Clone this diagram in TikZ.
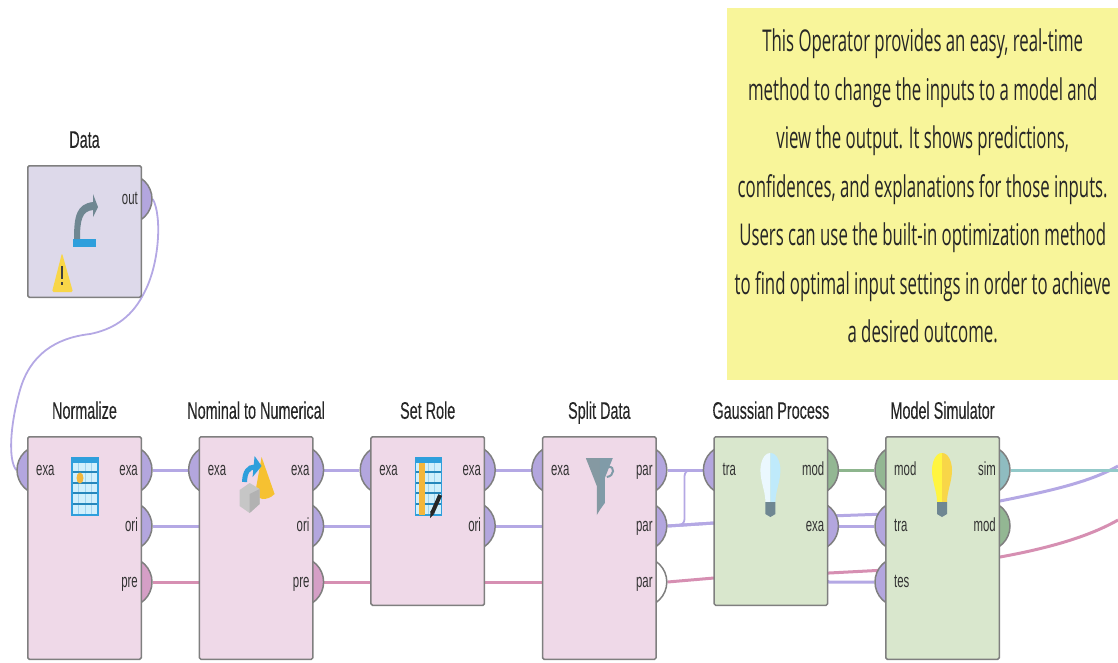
\documentclass[tikz,border=0pt]{standalone}
\usepackage{fontspec}
\setmainfont[FakeStretch=0.6]{Liberation Sans}
\newfontfamily\titlefont[FakeStretch=0.6,FakeBold=0.25]{Liberation Sans}
\newfontfamily\notefont[FakeStretch=0.56]{Open Sans}
\usetikzlibrary{arrows.meta,positioning,shapes.geometric,calc}
\definecolor{portblue}{HTML}{B3A6DE}
\definecolor{portpink}{HTML}{D59FC6}
\definecolor{portgreen}{HTML}{93B793}
\definecolor{portteal}{HTML}{8FBCC0}
\definecolor{wireblue}{HTML}{B4A8E4}
\definecolor{wirepink}{HTML}{D68FB2}
\definecolor{wiregreen}{HTML}{8DB58D}
\definecolor{wireteal}{HTML}{93C9C9}
\definecolor{opgray}{HTML}{7F7F7F}
\definecolor{oppink}{HTML}{EFD9E8}
\definecolor{opgreen}{HTML}{D9E7CD}
\definecolor{oplilac}{HTML}{DDD9EA}
\definecolor{noteyellow}{HTML}{F8F59A}
\definecolor{iconblue}{HTML}{2E9FDC}
\definecolor{iconslate}{HTML}{6F8792}
\definecolor{iconamber}{HTML}{F4B63A}
\definecolor{iconwarn}{HTML}{F8D648}
\pgfdeclarelayer{wires}
\pgfdeclarelayer{ports}
\pgfsetlayers{wires,ports,main}
\tikzset{
  pics/tableicon/.style={code={
    \fill[cyan!18] (45,22) rectangle (71,79);
    \foreach \xx in {51.5,58,64.5} \draw[iconblue!45,line width=1pt] (\xx,22) -- (\xx,79);
    \foreach \yy in {36,47,57,68} \draw[iconblue!85!black,line width=1.3pt] (45,\yy) -- (71,\yy);
    \fill[iconblue] (45,22) rectangle (71,27);
    \draw[iconblue,line width=1.2pt] (45,22) rectangle (71,79);}},
  pics/bulbicon/.style 2 args={code={
    \fill[#1] (57,17) .. controls (50,17) and (47,27) .. (47,34) .. controls (47,46) and (52,55) .. (52,66) -- (57,66) -- cycle;
    \fill[#2] (57,17) .. controls (64,17) and (67,27) .. (67,34) .. controls (67,46) and (62,55) .. (62,66) -- (57,66) -- cycle;
    \fill[iconslate] (52,66) -- (62,66) -- (62,78) -- (57,81) -- (52,78) -- cycle;}}
}
\newcommand{\outport}[5]{%
  \begin{pgfonlayer}{ports}\node[port, fill=#4] (#2) at ($(#1.north east)+(-15,#3)$) {};\end{pgfonlayer}
  \node[portlabel, anchor=east] (#2t) at ($(#1.north east)+(-3,#3)$) {#5};}
\newcommand{\inport}[5]{%
  \begin{pgfonlayer}{ports}\node[port, fill=#4] (#2) at ($(#1.north west)+(15,#3)$) {};\end{pgfonlayer}
  \node[portlabel, anchor=west] (#2t) at ($(#1.north west)+(8,#3)$) {#5};}
\begin{document}
\begin{tikzpicture}[x=1pt, y=-1pt,
  opbox/.style={draw=opgray, line width=1.5pt, rounded corners=1.5pt, anchor=north west, minimum width=113.5pt, inner sep=0pt},
  optitle/.style={font=\titlefont\fontsize{24}{28}\selectfont, text=black!85, above=12pt, inner sep=0pt, text depth=5pt},
  port/.style={circle, draw=opgray, line width=1.5pt, minimum size=50pt, inner sep=0pt},
  portlabel/.style={font=\fontsize{19}{22}\selectfont, text=black!80, inner sep=1pt, text height=11pt, text depth=0pt},
  wire/.style={wireblue, line width=3pt},
  notebox/.style={fill=noteyellow, anchor=north west, minimum width=391pt, minimum height=372pt, align=center, inner sep=0pt, font=\notefont\fontsize{30}{48.5}\selectfont, text=black!85}]
\useasboundingbox (0,0) rectangle (1118,662);
\node[notebox] (note) at (727,8) {This Operator provides an easy, real-time\\method to change the inputs to a model and\\view the output. It shows predictions,\\confidences, and explanations for those inputs.\\Users can use the built-in optimization method\\to find optimal input settings in order to achieve\\a desired outcome.\rule[-17pt]{0pt}{17pt}};
\node[opbox, fill=oplilac, minimum height=131.5pt] (data) at (27,165) {};
\node[opbox, fill=oppink, minimum height=222.5pt] (norm) at (27,436) {};
\node[opbox, fill=oppink, minimum height=222.5pt, right=56.6pt of norm.north east, anchor=north west] (nomi) {};
\node[opbox, fill=oppink, minimum height=168.5pt, right=56.6pt of nomi.north east, anchor=north west] (role) {};
\node[opbox, fill=oppink, minimum height=222.5pt, right=56.6pt of role.north east, anchor=north west] (splt) {};
\node[opbox, fill=opgreen, minimum height=168.5pt, right=56.6pt of splt.north east, anchor=north west] (gaus) {};
\node[opbox, fill=opgreen, minimum height=222.5pt, right=56.6pt of gaus.north east, anchor=north west] (simu) {};
\node[optitle] (datat) at (data.north) {Data};
\node[optitle] (normt) at (norm.north) {Normalize};
\node[optitle] (nomit) at (nomi.north) {Nominal to Numerical};
\node[optitle] (rolet) at (role.north) {Set Role};
\node[optitle] (spltt) at (splt.north) {Split Data};
\node[optitle] (gaust) at (gaus.north) {Gaussian Process};
\node[optitle] (simut) at (simu.north) {Model Simulator};
\outport{data}{dout}{34}{portblue}{out}
\inport{norm}{nin}{34}{portblue}{exa}
\outport{norm}{nexa}{34}{portblue}{exa}
\outport{norm}{nori}{90}{portblue}{ori}
\outport{norm}{npre}{146}{portpink}{pre}
\inport{nomi}{min}{34}{portblue}{exa}
\outport{nomi}{mexa}{34}{portblue}{exa}
\outport{nomi}{mori}{90}{portblue}{ori}
\outport{nomi}{mpre}{146}{portpink}{pre}
\inport{role}{rin}{34}{portblue}{exa}
\outport{role}{rexa}{34}{portblue}{exa}
\outport{role}{rori}{90}{portblue}{ori}
\inport{splt}{sin}{34}{portblue}{exa}
\outport{splt}{spa}{34}{portblue}{par}
\outport{splt}{spb}{90}{portblue}{par}
\outport{splt}{spc}{146}{white}{par}
\inport{gaus}{gtra}{34}{portblue}{tra}
\outport{gaus}{gmod}{34}{portgreen}{mod}
\outport{gaus}{gexa}{90}{portblue}{exa}
\inport{simu}{smod}{34}{portgreen}{mod}
\inport{simu}{stra}{90}{portblue}{tra}
\inport{simu}{stes}{146}{portblue}{tes}
\outport{simu}{ssim}{34}{portteal}{sim}
\outport{simu}{sout}{90}{portgreen}{mod}
\coordinate (exita) at (1118,470);
\coordinate (exitb) at (1118,466);
\coordinate (exitc) at (1118,520);
\begin{pgfonlayer}{wires}
\draw[wire, line width=1.8pt] (dout.east) .. controls (162,215) and (160,265) .. (143,295) .. controls (130,320) and (110,330) .. (90,334) .. controls (55,338) and (30,355) .. (20,390) .. controls (10,425) and (8,460) .. (nin.west);
\draw[wire] (nexa) -- (min); \draw[wire] (mexa) -- (rin); \draw[wire] (rexa) -- (sin); \draw[wire] (spa) -- (gtra);
\draw[wire] (nori) -- (mori); \draw[wire] (mori) -- (rori); \draw[wire] (rori) -- (spb);
\draw[wire, wirepink] (npre) -- (mpre); \draw[wire, wirepink] (mpre) -- (spc);
\draw[wire, line width=1.8pt, rounded corners=6pt] (spb.east) -- ++(17,-1) |- (gtra.west);
\draw[wire] (spb.east) -- (714,523) -- (829,582) -- (stes.west);
\draw[wire] (gexa) -- (stra);
\draw[wire] (spb.east) -- (714,523) -- (829,516) -- (886,514) -- (1000,501) .. controls (1050,491) and (1090,482) .. (exitb);
\draw[wire, wirepink] (spc.east) -- (714,578) -- (829,573) -- (886,570) -- (1000,557) .. controls (1050,548) and (1090,536) .. (exitc);
\draw[wire, wiregreen] (gmod) -- (smod);
\draw[wire, wireteal] (ssim.east) -- (exita);
\end{pgfonlayer}
\begin{scope}[shift={(data.north west)}]
\fill[iconblue] (46,74) rectangle (69,82);
\fill[iconslate] (47,74) .. controls (47,50) and (50,39) .. (66,37) -- (66,29) -- (71,42) -- (66,52) -- (66,45) .. controls (55,46) and (53,55) .. (53,74) -- cycle;
\fill[iconwarn, rounded corners=1.5pt] (35,88) -- (25,127) -- (46,127) -- cycle;
\draw[black!75, line width=1.2pt] (35,101) -- (35,114) (35,117) -- (35,120);
\end{scope}
\pic at (norm.north west) {tableicon};
\fill[iconamber] ($(norm.north west)+(53,42)$) ellipse (3.5 and 5.5);
\begin{scope}[shift={(nomi.north west)}]
\fill[iconamber!85!yellow] (63,21) -- (76,58) .. controls (72,62) and (68,63) .. (64,63) -- (56,60) -- cycle;
\fill[gray!45] (41,54) -- (51,47) -- (61,53) -- (61,68) -- (51,77) -- (41,70) -- cycle;
\fill[gray!60] (51,58) -- (61,53) -- (61,68) -- (51,77) -- cycle;
\draw[iconblue, line width=5pt] (46,46) .. controls (46,36) and (50,31) .. (56,31);
\fill[iconblue] (56,20) -- (63,30) -- (54,41) -- cycle;
\end{scope}
\pic at (role.north west) {tableicon};
\begin{scope}[shift={(role.north west)}]
\fill[iconamber] (49,27) rectangle (55,79);
\draw[black!85, line width=4pt] (62,77) -- (70,59);
\fill[black!85] (60,82) -- (60.2,75) -- (64,78) -- cycle;
\end{scope}
\begin{scope}[shift={(splt.north west)}]
\fill[iconslate!85] (44,22) -- (58,22) -- (58,74) -- (55,79) -- (55,50) -- cycle;
\fill[iconslate!115!black] (58,22) -- (71,22) -- (63,42) -- (63,67) -- (58,74) -- cycle;
\draw[iconslate!115!black, line width=2pt] (67,31) .. controls (73,30) and (73,40) .. (65,41);
\end{scope}
\pic at (gaus.north west) {bulbicon={cyan!8}{cyan!25}};
\pic at (simu.north west) {bulbicon={yellow!75!white}{iconwarn}};
\end{tikzpicture}
\end{document}
